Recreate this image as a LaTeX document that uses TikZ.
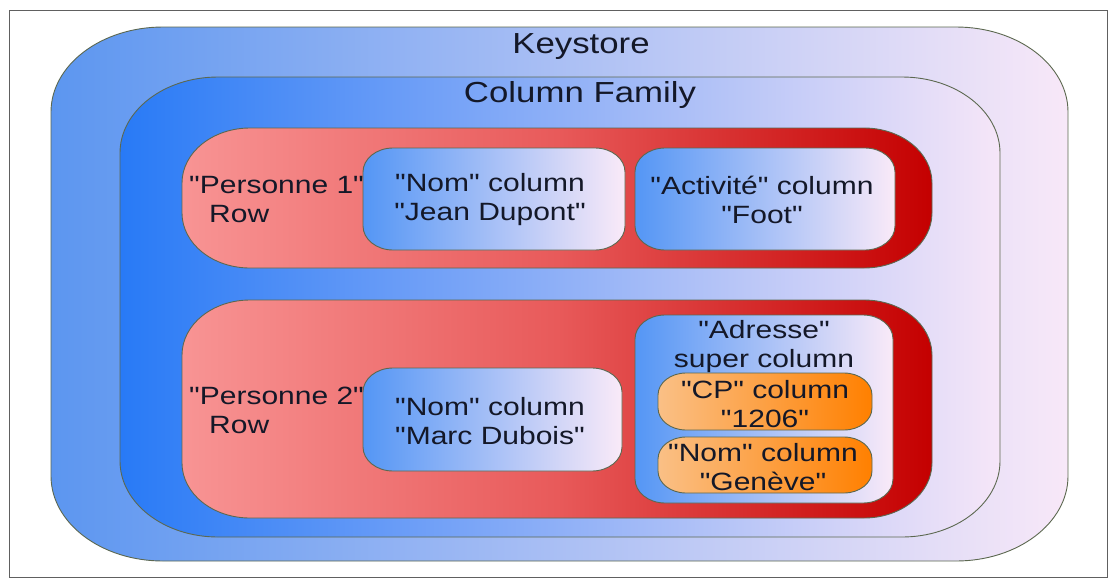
\documentclass[tikz,border=0pt]{standalone}
\usepackage{fontspec}
\setmainfont[FakeStretch=1.2, Ligatures=TeXOff]{Liberation Sans}

\definecolor{edgegray}{RGB}{92,104,80}
\definecolor{framegray}{RGB}{96,96,96}
\definecolor{txtdark}{RGB}{20,24,40}
\definecolor{ksleft}{RGB}{92,150,240}
\definecolor{ksright}{RGB}{248,232,248}
\definecolor{cfleft}{RGB}{40,122,246}
\definecolor{cfright}{RGB}{246,230,248}
\definecolor{rowleft}{RGB}{248,148,148}
\definecolor{rowmid}{RGB}{232,90,90}
\definecolor{rowright}{RGB}{196,0,0}
\definecolor{colleft}{RGB}{84,150,245}
\definecolor{colright}{RGB}{250,234,248}
\definecolor{cpleft}{RGB}{250,192,134}
\definecolor{cpright}{RGB}{255,128,0}

% box with elliptic corners: style, x1, y1, x2, y2, rx, ry
\newcommand{\ellbox}[7]{%
  \draw[#1] (#2+#6,#3) -- (#4-#6,#3)
    arc[start angle=90, end angle=0, x radius=#6pt, y radius=#7pt] -- (#4,#5-#7)
    arc[start angle=0, end angle=-90, x radius=#6pt, y radius=#7pt] -- (#2+#6,#5)
    arc[start angle=-90, end angle=-180, x radius=#6pt, y radius=#7pt] -- (#2,#3+#7)
    arc[start angle=180, end angle=90, x radius=#6pt, y radius=#7pt] -- cycle;}

\tikzset{
  boxline/.style={draw=edgegray, line width=0.9pt},
  keybox/.style={boxline, left color=ksleft, right color=ksright},
  familybox/.style={boxline, left color=cfleft, right color=cfright},
  rowbox/.style={boxline, left color=rowleft, right color=rowright, middle color=rowmid},
  colbox/.style={boxline, left color=colleft, right color=colright},
  cpbox/.style={boxline, left color=cpleft, right color=cpright},
  title/.style={inner sep=0pt, anchor=base, text=txtdark, font=\fontsize{29}{34}\selectfont},
  label/.style={inner sep=0pt, align=center, text=txtdark, font=\fontsize{25}{29}\selectfont},
  rowlabel/.style={label, align=left, anchor=west}
}

\begin{document}
\begin{tikzpicture}[x=1pt, y=-1pt]
  \useasboundingbox (0,0) rectangle (1108,579);
  \draw[framegray, line width=1pt] (9,10) rectangle (1107,577);

  % containers
  \ellbox{keybox}{51}{27}{1068}{561}{112}{85}
  \ellbox{familybox}{120}{77}{1000}{537}{98}{76}
  \ellbox{rowbox}{182}{128}{932}{268}{68}{55}
  \ellbox{rowbox}{182}{300}{932}{518}{68}{55}

  % columns
  \ellbox{colbox}{363}{148}{625}{250}{30}{24}
  \ellbox{colbox}{635}{148}{895}{250}{30}{24}
  \ellbox{colbox}{363}{368}{622}{471}{30}{24}
  \ellbox{colbox}{635}{315}{893}{503}{30}{24}
  \ellbox{cpbox}{658}{373}{872}{430}{28}{22}
  \ellbox{cpbox}{658}{437}{872}{493}{28}{22}

  \node[title] (keystore) at (581,53) {Keystore};
  \node[title] (family) at (580,102) {Column Family};

  \node[rowlabel] (row1) at (189,199.5) {"Personne 1"\\\hspace*{20pt}Row};
  \node[label] (nom1) at (490,199.5) {"Nom" column\\"Jean Dupont"};
  \node[label] (activite) at (762,199.5) {"Activité" column\\"Foot"};

  \node[rowlabel] (row2) at (189,410) {"Personne 2"\\\hspace*{20pt}Row};
  \node[label] (nom2) at (490,421) {"Nom" column\\"Marc Dubois"};
  \node[label] (adresse) at (764,347) {"Adresse"\\super column};
  \node[label] (cp) at (765,404.5) {"CP" column\\"1206"};
  \node[label] (ville) at (763,467) {"Nom" column\\"Genève"};
\end{tikzpicture}
\end{document}
